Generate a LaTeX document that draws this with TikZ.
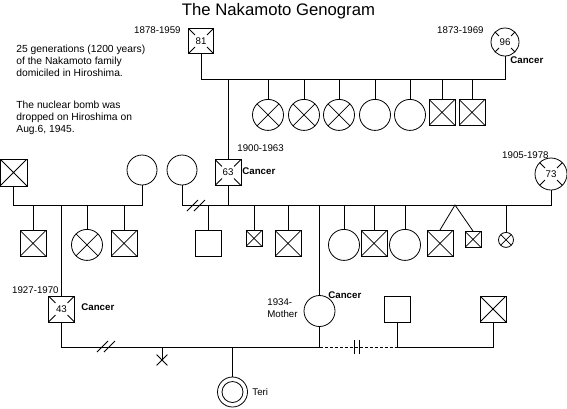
\documentclass[tikz,border=0pt]{standalone}
\usepackage{fontspec}
\setmainfont{Liberation Sans}
\usetikzlibrary{calc,shapes.misc}
\newcommand{\gensize}{\fontsize{9.7pt}{11.6pt}\selectfont}
\newcommand{\notesize}{\fontsize{10.3pt}{11.6pt}\selectfont}

\begin{document}
\begin{tikzpicture}[x=1pt, y=-1pt, line width=0.8pt, font=\gensize]
	\tikzstyle{male}=[draw, shape=rectangle, minimum size=26pt, inner sep=0pt]
	\tikzstyle{female}=[draw, shape=circle, minimum size=31pt, inner sep=0pt]
	\tikzstyle{smallbox}=[male, minimum size=16pt]
	\tikzstyle{dead}=[path picture={\draw (path picture bounding box.north west) -- (path picture bounding box.south east) (path picture bounding box.north east) -- (path picture bounding box.south west);}]
	\tikzstyle{deadage}=[path picture={\draw (path picture bounding box.north west) -- (path picture bounding box.south east) (path picture bounding box.north east) -- (path picture bounding box.south west); \fill [white] (path picture bounding box.center) circle (8.5pt);}]
	\tikzstyle{yrs}=[inner sep=0pt]
	\tikzstyle{cancer}=[inner sep=0pt, font=\gensize\bfseries]
	\tikzstyle{note}=[inner sep=0pt, anchor=north west, align=left, font=\notesize]

	\useasboundingbox (0,0) rectangle (567,408);

	\node [font=\fontsize{16.7pt}{20pt}\selectfont, anchor=base] (title) at (278.5,15) {The Nakamoto Genogram};
	\node [note] (note1) at (16,45) {25 generations (1200 years)\\of the Nakamoto family\\domiciled in Hiroshima.};
	\node [note] (note2) at (16,101) {The nuclear bomb was\\dropped on Hiroshima on\\Aug.6, 1945.};

	\node [male, deadage, minimum size=25pt] (gf) at (201,41) {81};
	\node [female, deadage, minimum size=28pt] (gm) at (505,42) {96};
	\node [yrs, anchor=east] at (181,30) {1878-1959};
	\node [yrs, anchor=east] at (484,30) {1873-1969};
	\node [cancer, anchor=west] at (510,60) {Cancer};

	\node [female, dead, anchor=north] (a1) at (268,99) {};
	\node [female, dead, anchor=north] (a2) at (304,99) {};
	\node [female, dead, anchor=north] (a3) at (339,99) {};
	\node [female, anchor=north] (a4) at (375,99) {};
	\node [female, anchor=north] (a5) at (410,99) {};
	\node [male, dead, anchor=north] (a6) at (442,99) {};
	\node [male, dead, anchor=north] (a7) at (472,99) {};

	\node [male, dead, minimum size=27pt] (pgf) at (13.5,172.5) {};
	\node [female, minimum size=30pt] (pgm) at (142,170) {};
	\node [female, minimum size=30pt] (w1) at (182,170) {};
	\node [male, deadage] (f63) at (228,172.5) {63};
	\node [female, deadage, minimum size=32pt] (w2) at (551,174) {73};
	\node [yrs, anchor=west] at (237,148) {1900-1963};
	\node [cancer, anchor=west] at (242,171) {Cancer};
	\node [yrs, anchor=east] at (549,155) {1905-1978};

	\node [male, dead, anchor=north] (b1) at (33,230) {};
	\node [female, dead, anchor=north] (b2) at (87,229) {};
	\node [male, dead, anchor=north] (b3) at (124,230) {};

	\node [male, anchor=north] (c1) at (208,230) {};
	\node [smallbox, dead, anchor=north] (c2) at (254,230) {};
	\node [male, dead, anchor=north] (c3) at (288,230) {};
	\node [female, anchor=north] (c4) at (344,229) {};
	\node [male, dead, anchor=north] (c5) at (374,230) {};
	\node [female, anchor=north] (c6) at (405,229) {};
	\node [male, dead, anchor=north] (t1) at (440,230) {};
	\node [smallbox, dead, anchor=north] (t2) at (473,231) {};
	\node [female, dead, minimum size=15pt, anchor=north] (c7) at (506,232) {};

	\node [male, deadage] (f43) at (61.5,309) {43};
	\node [yrs, anchor=east] at (59,290) {1927-1970};
	\node [cancer, anchor=west] at (81,307) {Cancer};
	\node [female] (mom) at (319.5,311) {};
	\node [cancer, anchor=west] at (328,295) {Cancer};
	\node [yrs, anchor=west, align=left] at (267,308) {1934-\\Mother};
	\node [male] (hus) at (397,309) {};
	\node [male, dead] (dx) at (493,309) {};
	\node [draw, cross out, minimum size=10pt, inner sep=0pt] (mc) at (162,360) {};
	\node [female, minimum size=30pt] (teri) at (232.5,392) {};
	\node [draw, circle, minimum size=21pt, inner sep=0pt] (terin) at (teri) {};
	\node [yrs, anchor=west] at (252,392) {Teri};

	\coordinate (top) at (0,79);
	\coordinate (mid) at (0,205);
	\coordinate (low) at (0,347);
	\coordinate (tw) at (455,205);

	\draw (gf) -- (gf |- top) -| (gm);
	\draw (a1 |- top) -- (a1) (a2 |- top) -- (a2) (a3 |- top) -- (a3) (a4 |- top) -- (a4) (a5 |- top) -- (a5) (a6 |- top) -- (a6) (a7 |- top) -- (a7);
	\draw (f63 |- top) -- (f63);

	\draw (pgf) -- (pgf |- mid) -| (pgm);
	\draw (b1 |- mid) -- (b1) (b2 |- mid) -- (b2) (b3 |- mid) -- (b3) (f43 |- mid) -- (f43);
	\draw (w1) -- (w1 |- mid) -| (w2);
	\draw (f63) -- (f63 |- mid);
	\draw (187,211) -- (198,200) (194,211) -- (205,200);
	\draw (c1 |- mid) -- (c1) (c2 |- mid) -- (c2) (c3 |- mid) -- (c3) (mom |- mid) -- (mom) (c4 |- mid) -- (c4) (c5 |- mid) -- (c5) (c6 |- mid) -- (c6) (c7 |- mid) -- (c7);
	\draw (t1.north) -- (tw) -- (t2.north);

	\draw (f43) -- (f43 |- low) -- (mom |- low);
	\draw (mom) -- (mom |- low);
	\draw [dash pattern=on 3pt off 2pt] (mom |- low) -- (hus |- low);
	\draw (hus) -- (hus |- low) -| (dx);
	\draw (97,352) -- (108,341) (104,352) -- (115,341);
	\draw (354,340) -- (354,354) (359,340) -- (359,354);
	\draw (mc |- low) -- (mc.center);
	\draw (teri |- low) -- (teri);
\end{tikzpicture}
\end{document}
